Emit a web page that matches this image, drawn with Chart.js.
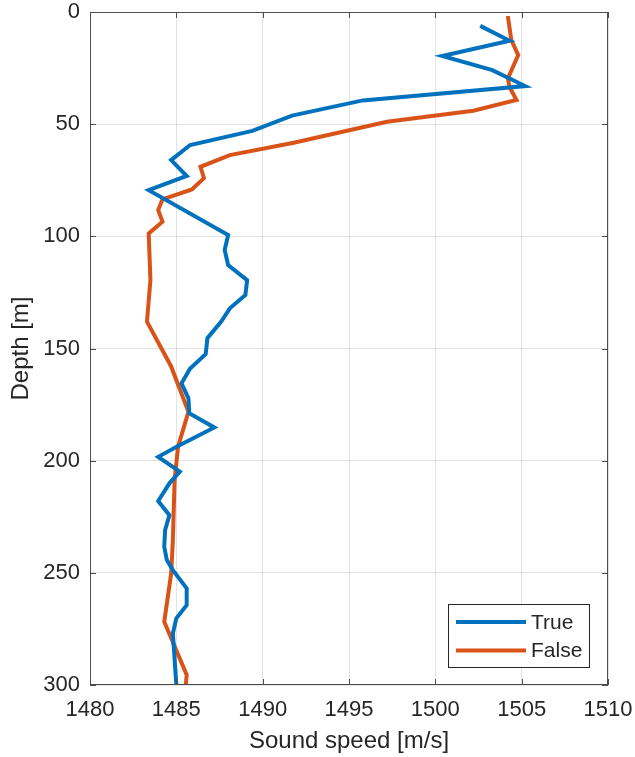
<!DOCTYPE html>
<html>
<head>
<meta charset="utf-8">
<title>Sound speed profile</title>
<script src="https://cdn.jsdelivr.net/npm/chart.js@4.4.1/dist/chart.umd.min.js"></script>
<style>
    html, body { margin: 0; padding: 0; background: #fff; }
    #wrap { width: 635px; height: 757px; }
</style>
</head>
<body>
<div id="wrap"><canvas id="profileChart" width="635" height="757"></canvas></div>
<script>
/* Sound speed vs depth — True / False profiles */

// "True" profile
const trueDepth = [6.2, 12.8, 19.6, 25.9, 33.0, 39.4, 46.2, 53.0, 59.3, 66.0, 73.1, 79.4,
    99.4, 106.1, 112.8, 119.5, 126.2, 132.1, 138.0, 145.4, 152.5, 158.9, 165.5, 172.2,
    178.9, 185.2, 193.5, 198.3, 204.9, 210.1, 218.0, 224.3, 230.9, 238.4, 244.3, 248.8,
    256.9, 264.4, 270.3, 277.0, 300.0];
const trueSpeed = [1502.6, 1504.3, 1500.4, 1503.3, 1505.2, 1495.8, 1491.7, 1489.4, 1485.8, 1484.7, 1485.6, 1483.4,
    1488.0, 1487.8, 1488.0, 1489.1, 1489.0, 1488.1, 1487.6, 1486.8, 1486.7, 1485.8, 1485.3, 1485.7,
    1485.75, 1487.2, 1485.1, 1483.95, 1485.2, 1484.6, 1483.95, 1484.6, 1484.35, 1484.3, 1484.45, 1484.8,
    1485.6, 1485.6, 1485.0, 1484.8, 1485.0];

// "False" profile
const falseDepth = [1.8, 12.5, 19.2, 29.6, 33.5, 39.2, 44.0, 48.9, 58.3, 63.8, 69.0, 74.1, 79.1,
    83.5, 88.3, 93.5, 98.7, 119.5, 138.0, 158.0, 178.2, 193.8, 208.6, 235.4, 250.3,
    271.8, 295.5, 300.0];
const falseSpeed = [1504.2, 1504.4, 1504.8, 1504.2, 1504.3, 1504.7, 1502.2, 1497.2, 1491.8, 1488.1, 1486.4, 1486.6, 1485.9,
    1484.2, 1483.95, 1484.2, 1483.4, 1483.5, 1483.3, 1484.7, 1485.7, 1485.1, 1484.9, 1484.8, 1484.7,
    1484.3, 1485.6, 1485.55];

const seriesLabels = ["True", "False"];
const seriesColors = ["#0072BD", "#D95319"];

const speedTicks = [1480, 1485, 1490, 1495, 1500, 1505, 1510];
const depthTicks = [0, 50, 100, 150, 200, 250, 300];

const FONT = "'Liberation Sans', Arial, Helvetica, sans-serif";
const TEXT_COLOR = "#262626";
const AXIS_COLOR = "#4d4d4d";
const GRID_COLOR = "rgba(0,0,0,0.11)";

const toPoints = (speeds, depths) => speeds.map((s, i) => ({ x: s, y: depths[i] }));

// MATLAB-style box, inward ticks and legend inside the axes
const boxPlugin = {
    id: "matlabBox",
    afterDraw(chart) {
        const { ctx, chartArea: a, scales } = chart;
        const line = (x1, y1, x2, y2) => {
            ctx.beginPath(); ctx.moveTo(x1, y1); ctx.lineTo(x2, y2); ctx.stroke();
        };
        ctx.save();
        ctx.strokeStyle = AXIS_COLOR;
        ctx.lineWidth = 1;
        ctx.strokeRect(a.left + 0.5, a.top + 0.5, a.width - 1, a.height - 1);
        const tl = 6;
        speedTicks.forEach(v => {
            const px = Math.round(scales.x.getPixelForValue(v)) + 0.5;
            line(px, a.bottom, px, a.bottom - tl);
            line(px, a.top, px, a.top + tl);
        });
        depthTicks.forEach(v => {
            const py = Math.round(scales.y.getPixelForValue(v)) + 0.5;
            line(a.left, py, a.left + tl, py);
            line(a.right, py, a.right - tl, py);
        });

        // legend
        const bw = 141, bh = 63;
        const bx = a.right - 19 - bw, by = a.bottom - 18 - bh;
        ctx.fillStyle = "#fff";
        ctx.fillRect(bx, by, bw, bh);
        ctx.strokeStyle = TEXT_COLOR;
        ctx.strokeRect(bx + 0.5, by + 0.5, bw, bh);
        ctx.font = "21px " + FONT;
        ctx.textBaseline = "middle";
        ctx.textAlign = "left";
        chart.data.datasets.forEach((ds, i) => {
            const ly = by + 18 + i * 28.5;
            ctx.strokeStyle = ds.borderColor;
            ctx.lineWidth = 4;
            line(bx + 8, ly, bx + 78, ly);
            ctx.fillStyle = TEXT_COLOR;
            ctx.fillText(ds.label, bx + 83, ly + 1);
        });
        ctx.restore();
    }
};

const lineStyle = {
    showLine: true,
    pointRadius: 0,
    borderWidth: 4,
    tension: 0,
    fill: false
};

new Chart(document.getElementById("profileChart"), {
    type: "scatter",
    data: {
        datasets: [
            { ...lineStyle, label: seriesLabels[0], borderColor: seriesColors[0], backgroundColor: seriesColors[0], data: toPoints(trueSpeed, trueDepth) },
            { ...lineStyle, label: seriesLabels[1], borderColor: seriesColors[1], backgroundColor: seriesColors[1], data: toPoints(falseSpeed, falseDepth) }
        ]
    },
    options: {
        responsive: false,
        animation: false,
        layout: { padding: { top: 12, right: 27, left: 0, bottom: 0 } },
        plugins: {
            legend: { display: false },
            tooltip: { enabled: false }
        },
        scales: {
            x: {
                type: "linear",
                min: 1480,
                max: 1510,
                afterBuildTicks: s => { s.ticks = speedTicks.map(v => ({ value: v })); },
                afterFit: s => { s.height = 72; s.paddingLeft = 0; s.paddingRight = 0; },
                grid: { color: GRID_COLOR, drawTicks: false },
                border: { display: false },
                ticks: { color: TEXT_COLOR, padding: 12, font: { family: FONT, size: 22 }, callback: v => String(v) },
                title: {
                    display: true,
                    text: "Sound speed [m/s]",
                    color: TEXT_COLOR,
                    font: { family: FONT, size: 24 },
                    padding: { top: 0, bottom: 1 }
                }
            },
            y: {
                type: "linear",
                reverse: true,
                min: 0,
                max: 300,
                afterBuildTicks: s => { s.ticks = depthTicks.map(v => ({ value: v })); },
                afterFit: s => { s.width = 90; s.paddingTop = 0; s.paddingBottom = 0; },
                grid: { color: GRID_COLOR, drawTicks: false },
                border: { display: false },
                ticks: { color: TEXT_COLOR, padding: 10, font: { family: FONT, size: 22 }, callback: v => String(v) },
                title: {
                    display: true,
                    text: "Depth [m]",
                    color: TEXT_COLOR,
                    font: { family: FONT, size: 24 },
                    padding: { top: 7, bottom: 0 }
                }
            }
        }
    },
    plugins: [boxPlugin]
});
</script>
</body>
</html>
